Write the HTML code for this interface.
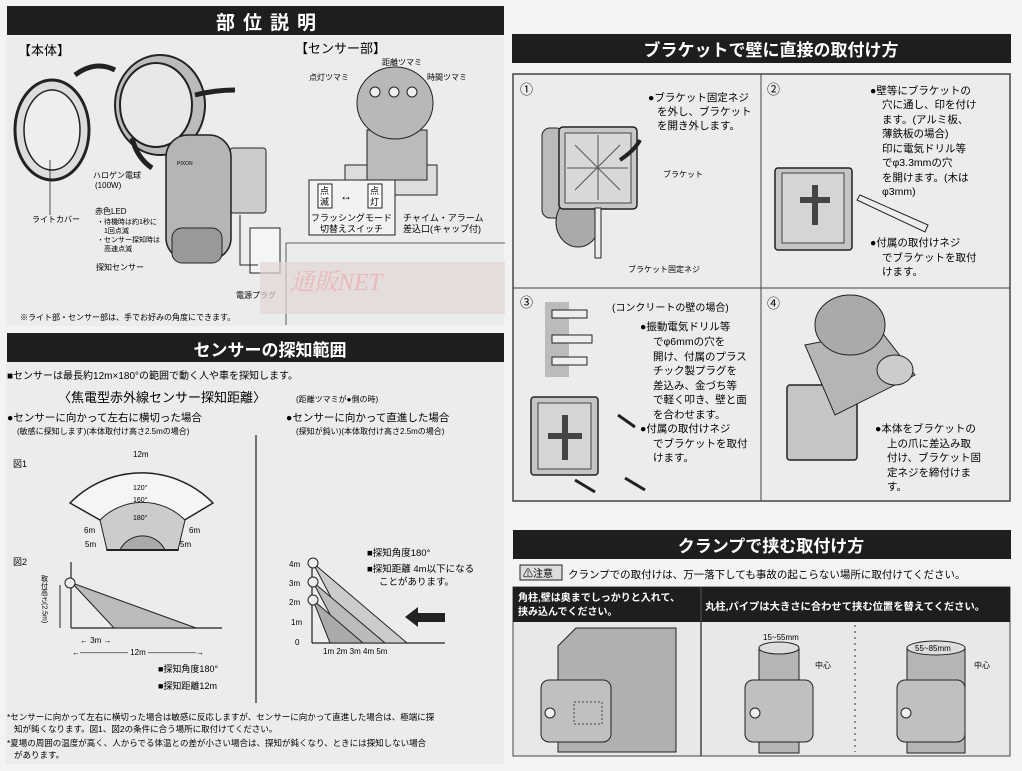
<!DOCTYPE html>
<html><head><meta charset="utf-8"><style>
html,body{margin:0;padding:0;background:#f3f3f3;}
svg{display:block;font-family:"Liberation Sans","Noto Sans CJK JP",sans-serif;}
</style></head><body>
<svg width="1022" height="771" viewBox="0 0 1022 771" xmlns="http://www.w3.org/2000/svg">
<rect width="1022" height="771" fill="#f3f3f3"/>
<rect x="6" y="36" width="498" height="290" fill="#ececec"/>
<rect x="6" y="362" width="498" height="402" fill="#ececec"/>
<!-- LEFT HEADER -->
<rect x="7" y="6" width="497" height="29" fill="#1e1e1e"/>
<text x="270" y="29" fill="#fff" font-size="19" font-weight="bold" text-anchor="middle" letter-spacing="8">部位説明</text>
<text x="18" y="55" font-size="13">【本体】</text>
<text x="295" y="53" font-size="13">【センサー部】</text>
<!-- body illustration -->
<ellipse cx="52" cy="130" rx="37" ry="50" fill="#ddd" stroke="#222" stroke-width="3"/>
<ellipse cx="52" cy="130" rx="28" ry="40" fill="#eee" stroke="#222" stroke-width="1.5"/>
<ellipse cx="160" cy="105" rx="45" ry="50" fill="#bbb" stroke="#222" stroke-width="2"/>
<ellipse cx="156" cy="105" rx="36" ry="42" fill="#e8e8e8" stroke="#222" stroke-width="2"/>
<rect x="230" y="148" width="36" height="65" rx="3" fill="#ccc" stroke="#222"/>
<rect x="166" y="135" width="65" height="125" rx="22" fill="#b5b5b5" stroke="#222" stroke-width="1.5"/>
<rect x="172" y="228" width="50" height="35" rx="10" fill="#999" stroke="#222"/>
<text x="177" y="165" font-size="5">PIXON</text>
<path d="M75 75 q20 -15 40 -5" fill="none" stroke="#222" stroke-width="5"/>
<path d="M195 95 q20 -5 40 -5" fill="none" stroke="#222" stroke-width="5"/>
<path d="M132 138 q5 20 20 30" fill="none" stroke="#222" stroke-width="5"/>
<rect x="250" y="228" width="30" height="45" fill="#f5f5f5" stroke="#222"/>
<path d="M240 215 V265 H258" fill="none" stroke="#222"/>
<text x="93" y="178" font-size="8">ハロゲン電球</text>
<text x="95" y="188" font-size="8">(100W)</text>
<text x="32" y="222" font-size="8">ライトカバー</text>
<text x="95" y="214" font-size="8">赤色LED</text>
<text x="97" y="224" font-size="7">・待機時は約1秒に</text>
<text x="104" y="233" font-size="7">1回点滅</text>
<text x="97" y="242" font-size="7">・センサー探知時は</text>
<text x="104" y="251" font-size="7">高速点滅</text>
<text x="96" y="270" font-size="8">探知センサー</text>
<text x="236" y="298" font-size="8">電源プラグ</text>
<line x1="50" y1="160" x2="50" y2="215" stroke="#222" stroke-width="0.8"/>
<!-- sensor part -->
<rect x="345" y="165" width="92" height="30" fill="#ddd" stroke="#222"/>
<rect x="367" y="130" width="60" height="50" fill="#bbb" stroke="#222"/>
<ellipse cx="395" cy="103" rx="38" ry="36" fill="#b8b8b8" stroke="#222"/>
<circle cx="375" cy="92" r="5" fill="#eee" stroke="#222"/><circle cx="394" cy="92" r="5" fill="#eee" stroke="#222"/><circle cx="412" cy="92" r="5" fill="#eee" stroke="#222"/>
<text x="309" y="80" font-size="8">点灯ツマミ</text>
<text x="382" y="65" font-size="8">距離ツマミ</text>
<text x="427" y="80" font-size="8">時間ツマミ</text>
<rect x="309" y="180" width="86" height="55" fill="#f2f2f2" stroke="#222"/>
<rect x="318" y="184" width="14" height="24" fill="#fff" stroke="#222"/><text x="320" y="194" font-size="9">点</text><text x="320" y="205" font-size="9">滅</text>
<rect x="368" y="184" width="14" height="24" fill="#fff" stroke="#222"/><text x="370" y="194" font-size="9">点</text><text x="370" y="205" font-size="9">灯</text>
<text x="340" y="200" font-size="12">↔</text>
<text x="311" y="221" font-size="9">フラッシングモード</text>
<text x="320" y="232" font-size="9">切替えスイッチ</text>
<text x="403" y="221" font-size="9">チャイム・アラーム</text>
<text x="403" y="232" font-size="9">差込口(キャップ付)</text>
<path d="M286 325 V243 H505" fill="none" stroke="#333" stroke-width="0.8"/>
<rect x="260" y="262" width="245" height="52" fill="#e2d6d6" opacity="0.7"/>
<text x="290" y="290" font-size="24" fill="#e8b9bb" font-style="italic" font-family="Liberation Serif, Noto Serif CJK SC, serif">通販NET</text>
<text x="20" y="320" font-size="8">※ライト部・センサー部は、手でお好みの角度にできます。</text>
<!-- SENSOR RANGE HEADER -->
<rect x="7" y="333" width="497" height="29" fill="#1e1e1e"/>
<text x="270" y="356" fill="#fff" font-size="17" font-weight="bold" text-anchor="middle">センサーの探知範囲</text>
<text x="7" y="379" font-size="10">■センサーは最長約12m×180°の範囲で動く人や車を探知します。</text>
<text x="58" y="402" font-size="13">〈焦電型赤外線センサー探知距離〉</text>
<text x="296" y="402" font-size="8">(距離ツマミが●側の時)</text>
<text x="7" y="421" font-size="10.5">●センサーに向かって左右に横切った場合</text>
<text x="17" y="434" font-size="8">(敏感に探知します)(本体取付け高さ2.5mの場合)</text>
<text x="286" y="421" font-size="10.5">●センサーに向かって直進した場合</text>
<text x="296" y="434" font-size="8">(探知が鈍い)(本体取付け高さ2.5mの場合)</text>
<line x1="256" y1="435" x2="256" y2="703" stroke="#222" stroke-width="1.2"/>
<!-- fig1 -->
<text x="13" y="467" font-size="9">図1</text>
<text x="133" y="457" font-size="8">12m</text>
<path d="M70 503 A100 100 0 0 1 213 503 L178 524 L178 550 L107 550 L107 524 Z" fill="#f5f5f5" stroke="#222" stroke-width="1.5"/>
<path d="M100 520 A60 60 0 0 1 185 520 L178 550 L107 550 Z" fill="#ccc" stroke="#222"/>
<path d="M120 550 A25 25 0 0 1 165 550 Z" fill="#aaa" stroke="#222"/>
<text x="133" y="490" font-size="7">120°</text><text x="133" y="502" font-size="7">160°</text><text x="133" y="520" font-size="7">180°</text>
<text x="84" y="533" font-size="8">6m</text><text x="189" y="533" font-size="8">6m</text>
<text x="85" y="547" font-size="8">5m</text><text x="180" y="547" font-size="8">5m</text>
<line x1="107" y1="550" x2="178" y2="550" stroke="#222" stroke-width="2"/>
<!-- fig2 -->
<text x="13" y="565" font-size="9">図2</text>
<line x1="71" y1="562" x2="71" y2="628" stroke="#222" stroke-width="1.2"/>
<line x1="71" y1="628" x2="222" y2="628" stroke="#222" stroke-width="1.2"/>
<polygon points="72,583 196,628 114,628" fill="#bbb" stroke="#222"/>
<circle cx="70" cy="583" r="5" fill="#eee" stroke="#222"/>
<line x1="60" y1="585" x2="60" y2="628" stroke="#222"/>
<text x="44" y="575" font-size="7" writing-mode="tb">取付高さ(2.5m)</text>
<text x="80" y="643" font-size="8">← 3m →</text>
<text x="72" y="655" font-size="8">←―――――― 12m ――――――→</text>
<text x="158" y="672" font-size="9">■探知角度180°</text>
<text x="158" y="689" font-size="9">■探知距離12m</text>
<!-- right graph -->
<line x1="312" y1="560" x2="312" y2="643" stroke="#222" stroke-width="1.2"/>
<line x1="312" y1="643" x2="445" y2="643" stroke="#222" stroke-width="1.2"/>
<polygon points="313,563 407,643 355,643" fill="#ccc" stroke="#222"/>
<polygon points="313,582 385,643 345,643" fill="#bbb" stroke="#222"/>
<polygon points="313,600 363,643 330,643" fill="#aaa" stroke="#222"/>
<circle cx="313" cy="563" r="5" fill="#eee" stroke="#222"/><circle cx="313" cy="582" r="5" fill="#eee" stroke="#222"/><circle cx="313" cy="600" r="5" fill="#eee" stroke="#222"/>
<text x="289" y="567" font-size="8">4m</text><text x="289" y="586" font-size="8">3m</text><text x="289" y="605" font-size="8">2m</text><text x="291" y="625" font-size="8">1m</text><text x="295" y="645" font-size="8">0</text>
<text x="323" y="654" font-size="8">1m 2m 3m 4m 5m</text>
<text x="367" y="556" font-size="9.5">■探知角度180°</text>
<text x="367" y="572" font-size="9.5">■探知距離 4m以下になる</text>
<text x="379" y="585" font-size="9.5">ことがあります。</text>
<polygon points="405,617 418,607 418,613 445,613 445,622 418,622 418,627" fill="#222"/>
<text x="7" y="720" font-size="8.5">*センサーに向かって左右に横切った場合は敏感に反応しますが、センサーに向かって直進した場合は、極端に探</text>
<text x="14" y="732" font-size="8.5">知が鈍くなります。図1、図2の条件に合う場所に取付けてください。</text>
<text x="7" y="746" font-size="8.5">*夏場の周囲の温度が高く、人からでる体温との差が小さい場合は、探知が鈍くなり、ときには探知しない場合</text>
<text x="14" y="758" font-size="8.5">があります。</text>
<!-- RIGHT HEADER -->
<rect x="512" y="34" width="499" height="29" fill="#1e1e1e"/>
<text x="771" y="56" fill="#fff" font-size="17" font-weight="bold" text-anchor="middle">ブラケットで壁に直接の取付け方</text>
<rect x="513" y="74" width="497" height="427" fill="#ececec" stroke="#444" stroke-width="1.5"/>
<line x1="761" y1="74" x2="761" y2="501" stroke="#444"/>
<line x1="513" y1="288" x2="1010" y2="288" stroke="#444"/>
<text x="520" y="94" font-size="13">①</text><text x="767" y="94" font-size="13">②</text><text x="520" y="307" font-size="13">③</text><text x="767" y="308" font-size="13">④</text>
<!-- step1 -->
<rect x="542" y="128" width="22" height="90" rx="8" fill="#bbb" stroke="#222"/>
<ellipse cx="578" cy="222" rx="22" ry="25" fill="#aaa" stroke="#222"/>
<rect x="559" y="127" width="78" height="82" rx="4" fill="#c8c8c8" stroke="#222" stroke-width="1.5"/>
<rect x="565" y="133" width="66" height="70" fill="#d8d8d8" stroke="#444"/>
<path d="M575 145 L620 190 M620 145 L575 190 M598 135 V200 M567 168 H628" stroke="#555" fill="none"/>
<rect x="595" y="208" width="6" height="50" fill="#eee" stroke="#222"/>
<path d="M620 160 q15 -10 20 -20" stroke="#222" stroke-width="4" fill="none"/>
<text x="648" y="101" font-size="10.5">●ブラケット固定ネジ</text><text x="657" y="115" font-size="10.5">を外し、ブラケット</text><text x="657" y="129" font-size="10.5">を開き外します。</text>
<text x="663" y="177" font-size="8">ブラケット</text>
<text x="628" y="272" font-size="8">ブラケット固定ネジ</text>
<!-- step2 -->
<rect x="775" y="168" width="77" height="82" rx="3" fill="#c5c5c5" stroke="#222" stroke-width="1.5"/>
<rect x="782" y="173" width="62" height="70" fill="#d5d5d5" stroke="#444"/>
<path d="M800 200 H830 M815 185 V225" stroke="#444" stroke-width="6"/>
<polygon points="860,195 928,225 925,232 857,200" fill="#eee" stroke="#222"/>
<text x="870" y="94" font-size="10.5">●壁等にブラケットの</text><text x="882" y="108" font-size="10.5">穴に通し、印を付け</text><text x="882" y="123" font-size="10.5">ます。(アルミ板、</text><text x="882" y="137" font-size="10.5">薄鉄板の場合)</text><text x="882" y="152" font-size="10.5">印に電気ドリル等</text><text x="882" y="166" font-size="10.5">でφ3.3mmの穴</text><text x="882" y="181" font-size="10.5">を開けます。(木は</text><text x="882" y="195" font-size="10.5">φ3mm)</text>
<text x="870" y="246" font-size="10.5">●付属の取付けネジ</text><text x="882" y="261" font-size="10.5">でブラケットを取付</text><text x="882" y="275" font-size="10.5">けます。</text>
<!-- step3 -->
<rect x="545" y="302" width="24" height="75" fill="#bbb"/>
<rect x="552" y="310" width="35" height="8" fill="#eee" stroke="#222"/><rect x="552" y="335" width="40" height="8" fill="#eee" stroke="#222"/><rect x="552" y="357" width="35" height="8" fill="#eee" stroke="#222"/>
<rect x="531" y="397" width="67" height="78" rx="3" fill="#c5c5c5" stroke="#222" stroke-width="1.5"/>
<rect x="538" y="403" width="53" height="66" fill="#d5d5d5" stroke="#444"/>
<path d="M548 436 H582 M565 415 V460" stroke="#444" stroke-width="6"/>
<line x1="618" y1="415" x2="635" y2="427" stroke="#222" stroke-width="3"/><line x1="575" y1="480" x2="595" y2="492" stroke="#222" stroke-width="3"/><line x1="625" y1="478" x2="645" y2="490" stroke="#222" stroke-width="3"/>
<text x="612" y="311" font-size="10">(コンクリートの壁の場合)</text>
<text x="640" y="330" font-size="10.5">●振動電気ドリル等</text><text x="653" y="345" font-size="10.5">でφ6mmの穴を</text><text x="653" y="360" font-size="10.5">開け、付属のプラス</text><text x="653" y="374" font-size="10.5">チック製プラグを</text><text x="653" y="389" font-size="10.5">差込み、金づち等</text><text x="653" y="403" font-size="10.5">で軽く叩き、壁と面</text><text x="653" y="418" font-size="10.5">を合わせます。</text>
<text x="640" y="432" font-size="10.5">●付属の取付けネジ</text><text x="653" y="447" font-size="10.5">でブラケットを取付</text><text x="653" y="461" font-size="10.5">けます。</text>
<!-- step4 -->
<rect x="787" y="385" width="70" height="75" rx="3" fill="#c5c5c5" stroke="#222" stroke-width="1.5"/>
<polygon points="805,345 880,330 915,375 835,415" fill="#b5b5b5" stroke="#222"/>
<ellipse cx="850" cy="325" rx="35" ry="30" fill="#aaa" stroke="#222"/>
<ellipse cx="895" cy="370" rx="18" ry="15" fill="#ccc" stroke="#222"/>
<text x="875" y="432" font-size="10.5">●本体をブラケットの</text><text x="887" y="447" font-size="10.5">上の爪に差込み取</text><text x="887" y="461" font-size="10.5">付け、ブラケット固</text><text x="887" y="476" font-size="10.5">定ネジを締付けま</text><text x="887" y="490" font-size="10.5">す。</text>
<!-- CLAMP -->
<rect x="513" y="530" width="498" height="29" fill="#1e1e1e"/>
<text x="771" y="552" fill="#fff" font-size="17" font-weight="bold" text-anchor="middle">クランプで挟む取付け方</text>
<rect x="520" y="565" width="42" height="15" fill="#ddd" stroke="#222"/>
<text x="523" y="577" font-size="10">⚠注意</text>
<text x="568" y="578" font-size="10.5">クランプでの取付けは、万一落下しても事故の起こらない場所に取付けてください。</text>
<rect x="513" y="587" width="497" height="169" fill="#e8e8e8" stroke="#444"/>
<rect x="513" y="587" width="497" height="35" fill="#1e1e1e"/>
<line x1="701" y1="587" x2="701" y2="756" stroke="#444" stroke-width="1.5"/>
<text x="518" y="601" fill="#fff" font-size="10" font-weight="bold">角柱,壁は奥までしっかりと入れて、</text>
<text x="518" y="615" fill="#fff" font-size="10" font-weight="bold">挟み込んでください。</text>
<text x="705" y="610" fill="#fff" font-size="10.3" font-weight="bold">丸柱,パイプは大きさに合わせて挟む位置を替えてください。</text>
<polygon points="558,646 576,628 676,628 676,752 558,752" fill="#b0b0b0" stroke="#222"/>
<rect x="541" y="680" width="70" height="62" rx="8" fill="#c0c0c0" stroke="#222"/>
<circle cx="550" cy="713" r="5" fill="#eee" stroke="#222"/>
<rect x="574" y="702" width="28" height="22" fill="none" stroke="#444" stroke-dasharray="2,2"/>
<line x1="855" y1="625" x2="855" y2="752" stroke="#333" stroke-dasharray="2,4"/>
<rect x="759" y="648" width="40" height="105" fill="#b5b5b5" stroke="#222"/>
<ellipse cx="779" cy="648" rx="20" ry="6" fill="#ddd" stroke="#222"/>
<rect x="745" y="680" width="68" height="62" rx="8" fill="#c0c0c0" stroke="#222"/>
<circle cx="755" cy="713" r="5" fill="#eee" stroke="#222"/>
<text x="763" y="640" font-size="8">15~55mm</text><text x="815" y="668" font-size="8">中心</text>
<rect x="907" y="648" width="58" height="105" fill="#b5b5b5" stroke="#222"/>
<ellipse cx="936" cy="648" rx="29" ry="7" fill="#ddd" stroke="#222"/>
<rect x="897" y="680" width="68" height="62" rx="8" fill="#c0c0c0" stroke="#222"/>
<circle cx="906" cy="713" r="5" fill="#eee" stroke="#222"/>
<text x="915" y="651" font-size="8">55~85mm</text><text x="974" y="668" font-size="8">中心</text>
</svg>
</body></html>
